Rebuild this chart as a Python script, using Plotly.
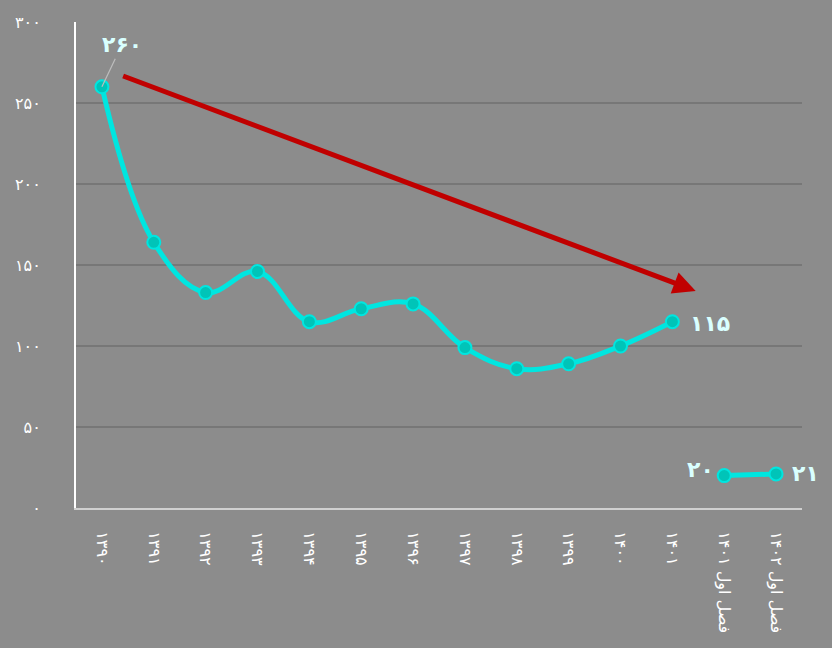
import plotly.graph_objects as go

years = ["۱۳۹۰", "۱۳۹۱", "۱۳۹۲", "۱۳۹۳", "۱۳۹۴", "۱۳۹۵", "۱۳۹۶",
         "۱۳۹۷", "۱۳۹۸", "۱۳۹۹", "۱۴۰۰", "۱۴۰۱"]
year_vals = [260, 164, 133, 146, 115, 123, 126, 99, 86, 89, 100, 115]

quarters = ["فصل اول ۱۴۰۱", "فصل اول ۱۴۰۲"]
quarter_vals = [20, 21]

y_ticks = [0, 50, 100, 150, 200, 250, 300]
y_tick_text = ["۰", "۵۰", "۱۰۰", "۱۵۰", "۲۰۰", "۲۵۰", "۳۰۰"]

bg = "#8c8c8c"
line_c = "#00e6e0"
marker_fill = "#00c4b8"
label_c = "#d9ffff"
font = "DejaVu Sans"

fig = go.Figure()
for xs, ys in [(years, year_vals), (quarters, quarter_vals)]:
    fig.add_trace(go.Scatter(
        x=xs, y=ys, mode="lines+markers",
        line=dict(color=line_c, width=5, shape="spline", smoothing=1.1),
        marker=dict(size=13, color=marker_fill, line=dict(color=line_c, width=2)),
        showlegend=False, hoverinfo="skip",
    ))

# value labels
lab_font = dict(size=22, color=label_c, family=font)
fig.add_annotation(x=years[0], y=year_vals[0], text="<b>۲۶۰</b>", showarrow=True,
                   arrowhead=0, arrowwidth=1.2, arrowcolor="#bdbdbd",
                   ax=20, ay=-42, font=lab_font)
fig.add_annotation(x=years[-1], y=year_vals[-1], text="<b>۱۱۵</b>", showarrow=False,
                   xanchor="left", xshift=16, yshift=-2, font=lab_font)
fig.add_annotation(x=quarters[0], y=quarter_vals[0], text="<b>۲۰</b>", showarrow=False,
                   xanchor="right", xshift=-8, yshift=6, font=lab_font)
fig.add_annotation(x=quarters[1], y=quarter_vals[1], text="<b>۲۱</b>", showarrow=False,
                   xanchor="left", xshift=14, yshift=0, font=lab_font)

# downward trend arrow
fig.add_annotation(x=11.45, y=134, ax=0.38, ay=267, xref="x", yref="y",
                   axref="x", ayref="y", text="", showarrow=True,
                   arrowhead=2, arrowsize=0.9, arrowwidth=5, arrowcolor="#c00000")

fig.update_layout(
    width=832, height=648,
    paper_bgcolor=bg, plot_bgcolor=bg,
    margin=dict(l=76, r=30, t=22, b=140),
    font=dict(family=font, color="white", size=14),
    xaxis=dict(
        type="category", categoryorder="array", categoryarray=years + quarters,
        range=[-0.5, 13.5], tickangle=90, showgrid=False,
        showline=True, linecolor="#d0d0d0", linewidth=2,
        ticks="outside", ticklen=18, tickcolor="rgba(0,0,0,0)",
        tickfont=dict(size=16, color="white", family=font),
    ),
    yaxis=dict(
        range=[0, 300], tickvals=y_ticks, ticktext=y_tick_text,
        showgrid=True, gridcolor="#777777", gridwidth=2, zeroline=False,
        showline=True, linecolor="white", linewidth=2,
        ticks="outside", ticklen=30, tickcolor="rgba(0,0,0,0)",
        tickfont=dict(size=16, color="white", family=font),
    ),
)

fig.write_html("out.html", config={"displayModeBar": False},
               post_script="document.body.style.margin='0';")
